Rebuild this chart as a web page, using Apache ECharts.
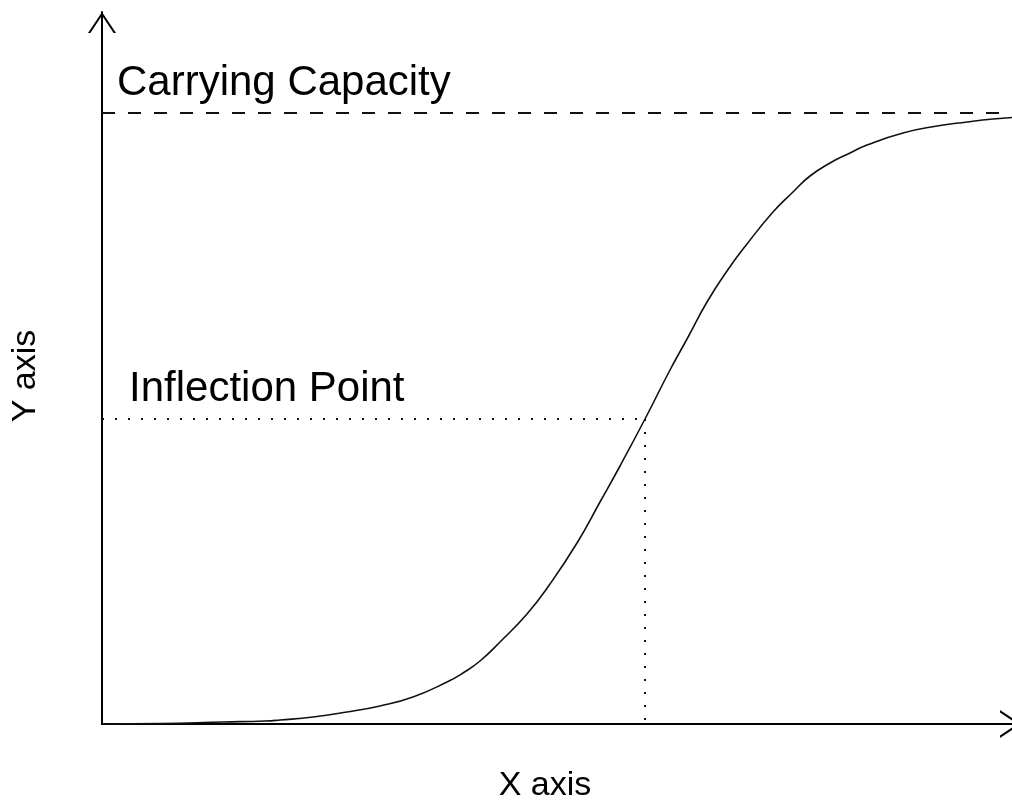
<!DOCTYPE html>
<html>
<head>
<meta charset="utf-8">
<title>Logistic growth</title>
<script src="https://cdn.jsdelivr.net/npm/echarts@6/dist/echarts.min.js"></script>
<style>
  html, body { margin: 0; padding: 0; background: #fff; }
  #main { width: 1012px; height: 806px; }
</style>
</head>
<body>
<div id="main"></div>
<script>
// values (x to the right of the y axis, y above the x axis)
const curveX = [0, 58, 121, 163, 178, 211, 245, 278, 311, 345, 361, 378, 398, 425, 448, 475, 498, 518, 543,
  568, 585, 605, 625, 645, 671, 691, 708, 728, 748, 765, 801, 835, 865, 891, 910, 919];
const curveY = [0, 0.5, 2, 3, 4, 7, 12, 18, 27, 42, 51, 63, 82, 110, 140, 181, 222, 258, 305,
  354, 385, 422, 453, 480, 512, 532, 548, 561, 571, 579, 591, 598, 602, 605, 606.5, 607];
const capacity = [611];
const inflection = [543, 305];
const xRange = [0, 919];
const yRange = [0, 712];

const points = curveX.map((x, i) => [x, curveY[i]]);

// open chevron used for both axis ends
const chevron = 'path://M0,21 L14,0 L28,21 L25.6,21 L14,3.6 L2.4,21 Z';
const axisLine = {
  show: true,
  symbol: ['none', chevron],
  symbolSize: [28, 21],
  symbolOffset: [0, -10.5],
  lineStyle: { color: '#000', width: 2 }
};

const font = '"Liberation Sans", Arial, sans-serif';
const dotted = { type: [2, 11], color: '#111', width: 2 };

const chart = echarts.init(document.getElementById('main'));
chart.setOption({
  animation: false,
  backgroundColor: '#fff',
  grid: { left: 102, right: -9, top: 12, bottom: 82, outerBoundsMode: 'none' },
  xAxis: {
    type: 'value',
    min: xRange[0],
    max: xRange[1],
    axisLine: axisLine,
    axisTick: { show: false },
    axisLabel: { show: false },
    splitLine: { show: false }
  },
  yAxis: {
    type: 'value',
    min: yRange[0],
    max: yRange[1],
    axisLine: axisLine,
    axisTick: { show: false },
    axisLabel: { show: false },
    splitLine: { show: false }
  },
  series: [
    {
      type: 'line',
      data: points,
      smooth: 0.5,
      showSymbol: false,
      lineStyle: { color: '#111', width: 1.6 },
      z: 3,
      markLine: {
        silent: true,
        symbol: 'none',
        label: { show: false },
        data: [
          // carrying capacity
          {
            yAxis: capacity[0],
            lineStyle: { type: [13, 13], color: '#111', width: 2 }
          },
          // inflection point guides
          [
            { coord: [xRange[0], inflection[1]], lineStyle: dotted },
            { coord: [inflection[0], inflection[1]] }
          ],
          [
            { coord: [inflection[0], inflection[1]], lineStyle: dotted },
            { coord: [inflection[0], yRange[0]] }
          ]
        ]
      }
    }
  ],
  graphic: [
    {
      type: 'text',
      x: 117, y: 83,
      style: { text: 'Carrying Capacity', font: '42px ' + font, fill: '#000', verticalAlign: 'middle' }
    },
    {
      type: 'text',
      x: 129, y: 389,
      style: { text: 'Inflection Point', font: '42px ' + font, fill: '#000', verticalAlign: 'middle' }
    },
    {
      type: 'text',
      x: 545, y: 786,
      style: { text: 'X axis', font: '34px ' + font, fill: '#000', align: 'center', verticalAlign: 'middle' }
    },
    {
      type: 'text',
      x: 26, y: 376,
      rotation: Math.PI / 2,
      style: { text: 'Y axis', font: '34px ' + font, fill: '#000', align: 'center', verticalAlign: 'middle' }
    }
  ]
});
</script>
</body>
</html>
